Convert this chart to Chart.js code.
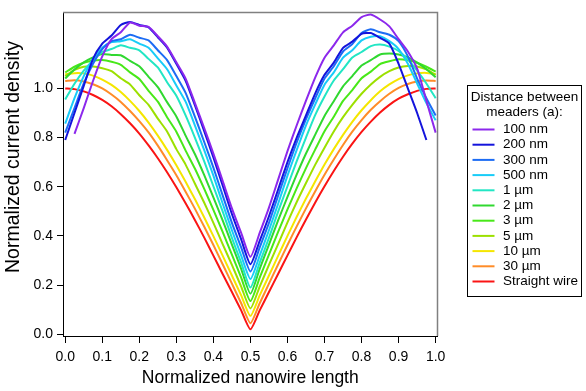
<!DOCTYPE html>
<html>
<head>
<meta charset="utf-8">
<script src="https://cdn.jsdelivr.net/npm/chart.js@4.4.1/dist/chart.umd.min.js"></script>
<style>
  html, body { margin: 0; padding: 0; background: #fff; }
  canvas { display: block; }
</style>
</head>
<body>
<canvas id="chart" width="586" height="391"></canvas>
<script>
// normalized position along the nanowire
const xs = [0.000, 0.025, 0.050, 0.075, 0.100, 0.125, 0.150, 0.175, 0.200, 0.225,
            0.250, 0.275, 0.300, 0.325, 0.350, 0.375, 0.400, 0.425, 0.450, 0.475,
            0.500, 0.525, 0.550, 0.575, 0.600, 0.625, 0.650, 0.675, 0.700, 0.725,
            0.750, 0.775, 0.800, 0.825, 0.850, 0.875, 0.900, 0.925, 0.950, 0.975, 1.000];

const seriesLabels = ['100 nm', '200 nm', '300 nm', '500 nm', '1 µm', '2 µm', '3 µm',
                      '5 µm', '10 µm', '30 µm', 'Straight wire'];

// normalized current density, one list per meander spacing
const d100nm = [null, 0.815, 0.920, 1.030, 1.130, 1.200, 1.228, 1.268, 1.255, 1.250,
                1.212, 1.170, 1.106, 1.040, 0.941, 0.840, 0.735, 0.624, 0.512, 0.412,
                0.315, 0.412, 0.515, 0.630, 0.745, 0.850, 0.950, 1.045, 1.125, 1.175,
                1.228, 1.255, 1.290, 1.300, 1.280, 1.252, 1.200, 1.150, 1.080, 0.950, 0.820];
const d200nm = [0.790, 0.900, 1.010, 1.120, 1.182, 1.215, 1.258, 1.270, 1.258, 1.248,
                1.208, 1.166, 1.100, 1.031, 0.932, 0.827, 0.719, 0.605, 0.489, 0.386,
                0.285, 0.380, 0.480, 0.590, 0.700, 0.800, 0.890, 0.980, 1.055, 1.105,
                1.165, 1.190, 1.222, 1.225, 1.205, 1.182, 1.100, 1.000, 0.900, 0.790, null];
const d300nm = [0.820, 0.920, 1.020, 1.100, 1.160, 1.192, 1.200, 1.218, 1.206, 1.195,
                1.155, 1.115, 1.050, 0.982, 0.885, 0.783, 0.678, 0.565, 0.453, 0.353,
                0.255, 0.353, 0.453, 0.565, 0.675, 0.780, 0.875, 0.960, 1.040, 1.090,
                1.150, 1.180, 1.225, 1.240, 1.228, 1.218, 1.192, 1.130, 1.040, 0.960, 0.890];
const d500nm = [0.857, 0.960, 1.050, 1.120, 1.165, 1.188, 1.192, 1.200, 1.182, 1.165,
                1.122, 1.078, 1.012, 0.946, 0.850, 0.750, 0.645, 0.532, 0.423, 0.320,
                0.225, 0.320, 0.423, 0.532, 0.645, 0.750, 0.850, 0.935, 1.015, 1.065,
                1.125, 1.155, 1.195, 1.210, 1.212, 1.192, 1.160, 1.100, 1.020, 0.940, 0.870];
const d1um   = [0.955, 1.019, 1.072, 1.114, 1.148, 1.160, 1.175, 1.165, 1.155, 1.120,
                1.085, 1.025, 0.970, 0.890, 0.800, 0.704, 0.602, 0.500, 0.392, 0.291,
                0.190, 0.291, 0.392, 0.500, 0.602, 0.704, 0.800, 0.892, 0.967, 1.032,
                1.078, 1.126, 1.148, 1.172, 1.178, 1.170, 1.152, 1.118, 1.072, 1.020, 0.960];
const d2um   = [1.040, 1.077, 1.106, 1.126, 1.140, 1.136, 1.135, 1.112, 1.090, 1.047,
                1.005, 0.944, 0.886, 0.808, 0.733, 0.648, 0.557, 0.463, 0.365, 0.266,
                0.165, 0.266, 0.365, 0.464, 0.559, 0.650, 0.735, 0.812, 0.888, 0.948,
                1.008, 1.050, 1.093, 1.115, 1.138, 1.142, 1.138, 1.126, 1.105, 1.078, 1.045];
const d3um   = [1.065, 1.088, 1.104, 1.113, 1.115, 1.108, 1.096, 1.065, 1.038, 0.990,
                0.946, 0.883, 0.824, 0.747, 0.674, 0.592, 0.506, 0.416, 0.324, 0.230,
                0.135, 0.230, 0.324, 0.417, 0.508, 0.594, 0.676, 0.752, 0.826, 0.885,
                0.949, 0.993, 1.041, 1.068, 1.099, 1.110, 1.118, 1.114, 1.104, 1.088, 1.068];
const d5um   = [1.050, 1.075, 1.088, 1.089, 1.082, 1.070, 1.041, 1.016, 0.972, 0.933,
                0.877, 0.825, 0.753, 0.690, 0.613, 0.536, 0.453, 0.367, 0.282, 0.194,
                0.105, 0.194, 0.282, 0.368, 0.455, 0.538, 0.615, 0.690, 0.759, 0.825,
                0.883, 0.933, 0.978, 1.016, 1.047, 1.070, 1.085, 1.091, 1.089, 1.077, 1.055];
const d10um  = [1.057, 1.062, 1.061, 1.052, 1.036, 1.014, 0.985, 0.949, 0.908, 0.861,
                0.808, 0.750, 0.687, 0.620, 0.550, 0.476, 0.399, 0.320, 0.239, 0.158,
                0.075, 0.158, 0.239, 0.320, 0.400, 0.478, 0.552, 0.622, 0.690, 0.753,
                0.811, 0.864, 0.911, 0.952, 0.988, 1.016, 1.038, 1.053, 1.061, 1.063, 1.058];
const d30um  = [1.030, 1.033, 1.028, 1.017, 1.000, 0.975, 0.945, 0.908, 0.867, 0.821,
                0.767, 0.708, 0.647, 0.580, 0.511, 0.438, 0.363, 0.285, 0.206, 0.126,
                0.045, 0.126, 0.206, 0.285, 0.363, 0.439, 0.512, 0.582, 0.649, 0.711,
                0.770, 0.824, 0.871, 0.913, 0.948, 0.978, 1.002, 1.018, 1.028, 1.032, 1.030];
const dStraight = [1.000, 0.997, 0.988, 0.973, 0.953, 0.927, 0.895, 0.858, 0.816, 0.768,
                0.716, 0.659, 0.598, 0.533, 0.465, 0.394, 0.320, 0.245, 0.172, 0.097,
                0.020, 0.097, 0.172, 0.246, 0.321, 0.395, 0.467, 0.536, 0.602, 0.664,
                0.722, 0.775, 0.823, 0.865, 0.902, 0.933, 0.958, 0.976, 0.990, 0.998, 1.000];

const xTickValues = [0, 0.1, 0.2, 0.3, 0.4, 0.5, 0.6, 0.7, 0.8, 0.9, 1.0];
const yTickValues = [0, 0.2, 0.4, 0.6, 0.8, 1.0];
const legendTitle = ['Distance between', 'meaders (a):'];
const yTitle = 'Normalized current density';
const xTitle = 'Normalized nanowire length';

// ---- styling ----
const FONT = '"Liberation Sans", Arial, sans-serif';
const lineColors = ['#8c28ec', '#1414dc', '#1c6cf4', '#18ccf8', '#22e6c4', '#30d830',
                    '#48e818', '#9ce000', '#f5e600', '#ff8c28', '#fa1414'];
const allSeries = [d100nm, d200nm, d300nm, d500nm, d1um, d2um, d3um, d5um, d10um, d30um, dStraight];

const datasets = allSeries.map((vals, i) => ({
  label: seriesLabels[i],
  data: xs.map((x, j) => ({ x: x, y: vals[j] })),
  borderColor: lineColors[i],
  backgroundColor: lineColors[i],
  borderWidth: 2,
  pointRadius: 0,
  tension: 0.2,
  fill: false
}));

// gray frame on top/right, rotated y title and the boxed legend
const framePlugin = {
  id: 'frame',
  afterDraw(chart) {
    const { ctx, chartArea: a } = chart;
    ctx.save();
    ctx.strokeStyle = '#808080';
    ctx.lineWidth = 1.5;
    ctx.beginPath();
    ctx.moveTo(a.left, a.top);
    ctx.lineTo(a.right, a.top);
    ctx.lineTo(a.right, a.bottom);
    ctx.stroke();

    ctx.fillStyle = '#000';
    ctx.save();
    ctx.translate(13.5, 157);
    ctx.rotate(-Math.PI / 2);
    ctx.font = '19.5px ' + FONT;
    ctx.textAlign = 'center';
    ctx.textBaseline = 'middle';
    ctx.fillText(yTitle, 0, 0);
    ctx.restore();

    // legend
    const box = { l: 467.5, t: 85.5, r: 581.5, b: 296.5 };
    ctx.strokeStyle = '#000';
    ctx.lineWidth = 1;
    ctx.strokeRect(box.l, box.t, box.r - box.l, box.b - box.t);
    ctx.font = '13.5px ' + FONT;
    ctx.textBaseline = 'middle';
    ctx.textAlign = 'center';
    legendTitle.forEach((t, i) => ctx.fillText(t, (box.l + box.r) / 2, 97 + i * 15.5));
    ctx.textAlign = 'left';
    chart.data.datasets.forEach((ds, i) => {
      const y = 129.5 + i * 15.2;
      ctx.strokeStyle = ds.borderColor;
      ctx.lineWidth = 2;
      ctx.beginPath();
      ctx.moveTo(472.5, y);
      ctx.lineTo(494.5, y);
      ctx.stroke();
      ctx.fillText(ds.label, 503, y);
    });
    ctx.restore();
  }
};

new Chart(document.getElementById('chart'), {
  type: 'line',
  data: { datasets: datasets },
  options: {
    responsive: false,
    animation: false,
    devicePixelRatio: 1,
    layout: { padding: { top: 7, right: 148.5, left: 0, bottom: 0 } },
    plugins: { legend: { display: false }, tooltip: { enabled: false } },
    scales: {
      x: {
        type: 'linear',
        min: -0.006,
        max: 1.005,
        afterBuildTicks: s => { s.ticks = xTickValues.map(v => ({ value: v })); },
        afterFit: s => { s.height = 55; },
        ticks: {
          autoSkip: false, maxRotation: 0, color: '#000', padding: 6,
          font: { family: FONT, size: 14 },
          callback: v => v.toFixed(1)
        },
        grid: { drawOnChartArea: false, tickLength: 7, color: '#000', tickColor: '#000' },
        border: { display: true, color: '#000', width: 1 },
        title: {
          display: true, text: xTitle, color: '#000',
          font: { family: FONT, size: 17.5 }, padding: { top: 0, bottom: 2 }
        }
      },
      y: {
        type: 'linear',
        min: -0.007,
        max: 1.309,
        afterBuildTicks: s => { s.ticks = yTickValues.map(v => ({ value: v })); },
        afterFit: s => { s.width = 63; },
        ticks: {
          color: '#000', padding: 4,
          font: { family: FONT, size: 14 },
          callback: v => v.toFixed(1)
        },
        grid: { drawOnChartArea: false, tickLength: 6, color: '#000', tickColor: '#000' },
        border: { display: true, color: '#000', width: 1 },
        title: { display: false }
      }
    }
  },
  plugins: [framePlugin]
});
</script>
</body>
</html>
